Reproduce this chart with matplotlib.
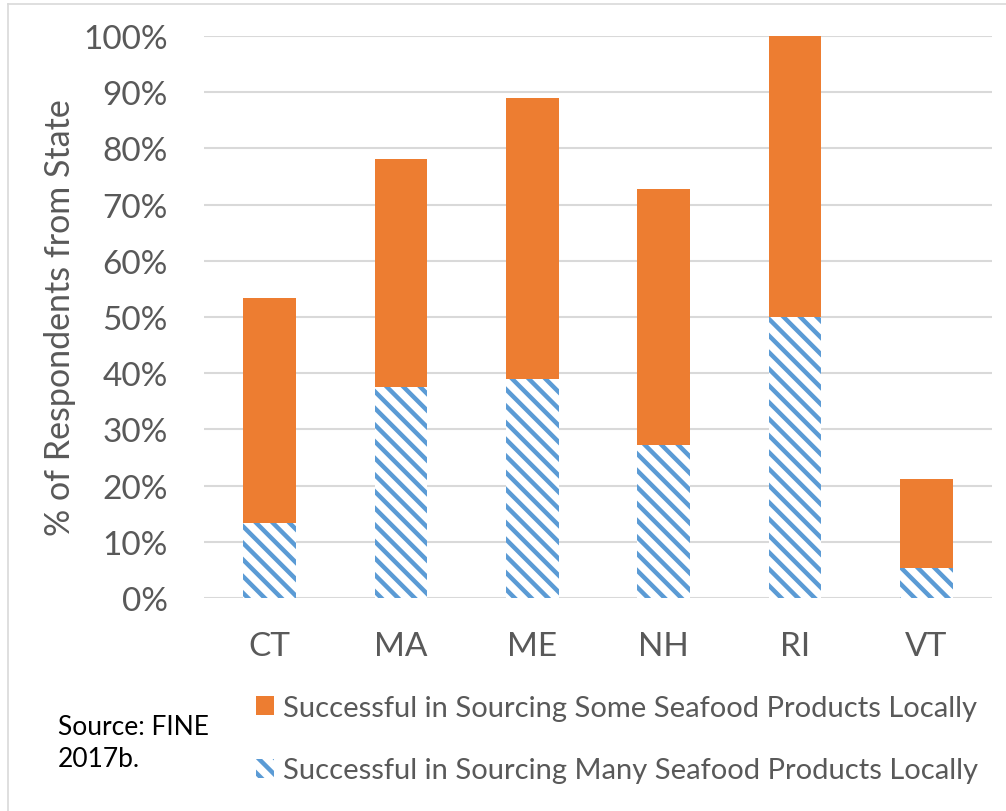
import matplotlib.pyplot as plt
from matplotlib.patches import Patch
from matplotlib.lines import Line2D

plt.rcParams['font.family'] = ['Lato', 'DejaVu Sans']
plt.rcParams['hatch.linewidth'] = 3.2

# Survey data (% of respondents from each state)
states = ['CT', 'MA', 'ME', 'NH', 'RI', 'VT']
many_local = [13.3, 37.5, 38.9, 27.3, 50.0, 5.3]   # hatched part
some_total = [53.3, 78.1, 88.9, 72.7, 100.0, 21.1]  # top of the bar
some_local = [t - m for t, m in zip(some_total, many_local)]

orange = '#ED7D31'
blue = '#5B9BD5'
gray_text = '#595959'

fig = plt.figure(figsize=(10.06, 8.12), dpi=100)
ax = fig.add_axes([0.2028, 0.2623, 0.7833, 0.6921])

x = range(len(states))
ax.bar(x, many_local, width=0.4, color='white', edgecolor=blue,
       linewidth=0, hatch='\\\\')
ax.bar(x, some_local, width=0.4, bottom=many_local, color=orange,
       linewidth=0)

ax.set_xlim(-0.5, len(states) - 0.5)
ax.set_ylim(0, 100)
ax.set_yticks(range(0, 101, 10))
ax.set_yticklabels([f'{v}%' for v in range(0, 101, 10)])
ax.set_xticks(list(x))
ax.set_xticklabels(states)
ax.tick_params(axis='both', length=0, labelsize=24, labelcolor=gray_text)
ax.tick_params(axis='y', pad=26)
ax.tick_params(axis='x', pad=24)

ax.grid(axis='y', color='#D9D9D9', linewidth=1.5)
ax.set_axisbelow(True)
for s in ax.spines.values():
    s.set_visible(False)

ax.set_ylabel('% of Respondents from State', fontsize=24.5, color=gray_text,
              labelpad=5)

handles = [Patch(facecolor=orange, edgecolor='none'),
           Patch(facecolor='white', edgecolor=blue, linewidth=0, hatch='\\\\')]
labels = ['Successful in Sourcing Some Seafood Products Locally',
          'Successful in Sourcing Many Seafood Products Locally']
leg = fig.legend(handles, labels, loc='upper left',
                 bbox_to_anchor=(256 / 1006, 1 - 696 / 812), frameon=False,
                 fontsize=21, labelcolor=gray_text, handlelength=0.62,
                 handleheight=0.62, handletextpad=0.3, labelspacing=1.25,
                 borderpad=0, borderaxespad=0)

fig.text(58 / 1006, 1 - 744 / 812, 'Source: FINE\n2017b.', fontsize=19,
         color='black', va='center', ha='left', linespacing=1.35)

# thin frame around the chart
fig.add_artist(Line2D([8 / 1006, 1], [1 - 5 / 812, 1 - 5 / 812],
                      transform=fig.transFigure, color='#D9D9D9', lw=1.2))
fig.add_artist(Line2D([8 / 1006, 8 / 1006], [0, 1 - 5 / 812],
                      transform=fig.transFigure, color='#D9D9D9', lw=1.2))

fig.savefig('out.png', dpi=100)
